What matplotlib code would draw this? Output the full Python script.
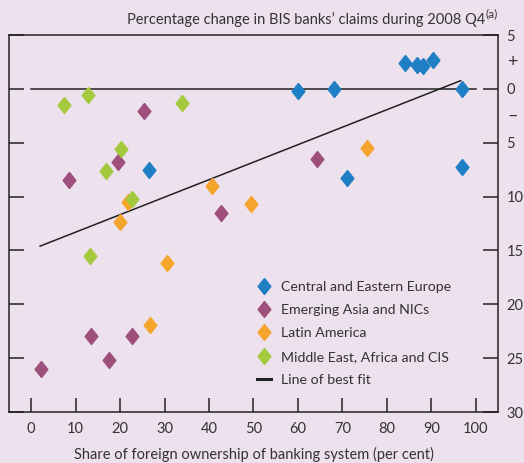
import numpy as np
import matplotlib
matplotlib.use('Agg')
import matplotlib.pyplot as plt

# values: x = foreign ownership share (%), y = % change in claims
cee_x = [60, 68, 84, 86.7, 88.2, 90.4, 97, 26.5, 71, 97]
cee_y = [-0.2, 0.0, 2.4, 2.25, 2.1, 2.7, -0.05, -7.5, -8.25, -7.3]
asia_x = [25.4, 64.3, 19.6, 8.4, 42.8, 13.4, 22.6, 17.4, 2.2]
asia_y = [-2.1, -6.5, -6.8, -8.5, -11.5, -22.9, -22.9, -25.2, -26.0]
latam_x = [75.6, 40.7, 49.4, 21.7, 20.0, 30.6, 26.7]
latam_y = [-5.5, -9.0, -10.7, -10.5, -12.4, -16.2, -21.9]
meac_x = [7.3, 12.7, 33.9, 20.2, 16.9, 22.6, 13.3]
meac_y = [-1.5, -0.6, -1.3, -5.55, -7.6, -10.2, -15.55]
fit_x = [2.0, 96.6]
fit_y = [-14.6, 0.76]

x_ticks = list(range(0, 101, 10))
y_ticks = [5, 0, -5, -10, -15, -20, -25, -30]

BG = '#ece1ec'
TXT = '#333333'
FS = 10.5
plt.rcParams['font.family'] = ['Lato', 'DejaVu Sans']

fig = plt.figure(figsize=(5.24, 4.63), dpi=100, facecolor=BG)
ax = fig.add_axes([9/524, 1-412/463, (498-9)/524, (412-35)/463])
ax.set_facecolor(BG)

diamond = [(0, 1), (0.8, 0), (0, -1), (-0.8, 0), (0, 1)]
ms = 11.5
ax.plot([0, 100], [0, 0], color='#222222', lw=1.1, zorder=1)
ax.plot(cee_x, cee_y, ls='none', marker=diamond, ms=ms, color='#1f7fc5', label='Central and Eastern Europe', zorder=3)
ax.plot(asia_x, asia_y, ls='none', marker=diamond, ms=ms, color='#9e4f7c', label='Emerging Asia and NICs', zorder=3)
ax.plot(latam_x, latam_y, ls='none', marker=diamond, ms=ms, color='#f5a52c', label='Latin America', zorder=3)
ax.plot(meac_x, meac_y, ls='none', marker=diamond, ms=ms, color='#a4c93d', label='Middle East, Africa and CIS', zorder=3)
ax.plot(fit_x, fit_y, color='#222222', lw=1.1, label='Line of best fit', zorder=2)

ax.set_xlim(-5, 105)
ax.set_ylim(-30, 5)
ax.set_xticks(x_ticks)
ax.set_xticklabels([str(v) for v in x_ticks])
ax.set_yticks(y_ticks)
ax.set_yticklabels([str(abs(v)) for v in y_ticks])
for s in ax.spines.values():
    s.set_color('#222222')
    s.set_linewidth(1.1)
ax.tick_params(axis='x', direction='in', length=10, width=1.1, color='#222222',
               labelsize=FS, labelcolor=TXT, pad=7)
ax.tick_params(axis='y', direction='in', length=11, width=1.1, color='#222222',
               left=True, right=True, labelleft=False, labelright=True,
               labelsize=FS, labelcolor=TXT, pad=6)
ax.text(1.030, 2.5, '+', transform=ax.get_yaxis_transform(), ha='center', va='center', fontsize=13, color=TXT)
ax.text(1.030, -2.5, '\u2013', transform=ax.get_yaxis_transform(), ha='center', va='center', fontsize=13, color=TXT)

ax.set_xlabel('Share of foreign ownership of banking system (per cent)', fontsize=10.5, color=TXT, labelpad=8)
fig.text(485/524, 1-20/463, 'Percentage change in BIS banks\u2019 claims during 2008 Q4',
         ha='right', va='center', fontsize=FS, color=TXT)
fig.text(486/524, 1-14/463, '(a)', ha='left', va='center', fontsize=8.5, color=TXT)

leg = ax.legend(loc='lower left', bbox_to_anchor=(0.481, 0.035), frameon=False, fontsize=10.2,
                handlelength=1.0, handletextpad=0.7, labelspacing=0.8, labelcolor=TXT)
leg.get_lines()[-1].set_linewidth(2.2)

fig.savefig('out.png', dpi=100, facecolor=BG)
